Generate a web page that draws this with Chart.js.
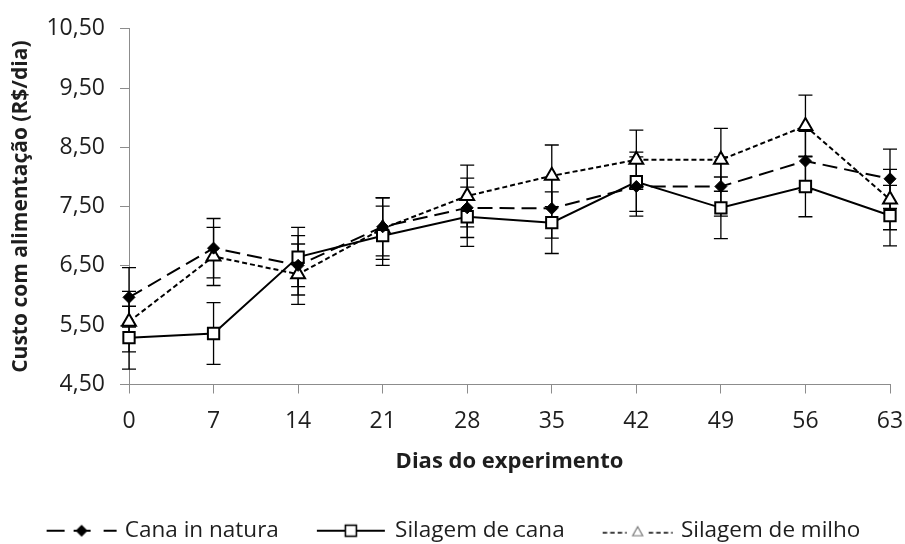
<!DOCTYPE html>
<html>
<head>
    <meta charset="utf-8">
    <title>Custo com alimentação</title>
    <script src="https://cdn.jsdelivr.net/npm/chart.js"></script>
    <style>
        body {
            margin: 0;
            background: #fff;
        }
        #wrap {
            width: 905px;
            height: 544px;
        }
    </style>
</head>
<body>
    <div id="wrap"><canvas id="myChart" width="905" height="544"></canvas></div>
    <script>
        // valores
        const dias = ['0', '7', '14', '21', '28', '35', '42', '49', '56', '63'];

        const canaNatura = [5.97, 6.80, 6.51, 7.16, 7.48, 7.47, 7.84, 7.84, 8.27, 7.97];
        const canaNaturaErro = [0.50, 0.50, 0.50, 0.49, 0.50, 0.50, 0.50, 0.50, 0.50, 0.50];

        const silagemCana = [5.29, 5.36, 6.65, 7.01, 7.33, 7.23, 7.92, 7.48, 7.84, 7.35];
        const silagemCanaErro = [0.53, 0.52, 0.50, 0.50, 0.50, 0.52, 0.50, 0.52, 0.51, 0.51];

        const silagemMilho = [5.56, 6.66, 6.36, 7.13, 7.68, 8.02, 8.29, 8.29, 8.86, 7.62];
        const silagemMilhoErro = [0.51, 0.49, 0.51, 0.52, 0.52, 0.52, 0.50, 0.53, 0.52, 0.51];

        const yTicks = [4.5, 5.5, 6.5, 7.5, 8.5, 9.5, 10.5];

        const fontFamily = '"Open Sans", "Noto Sans", sans-serif';
        const axisColor = '#8c8c8c';
        const textColor = '#1e1e1e';

        // barras de erro (media +- desvio)
        const errorBars = {
            id: 'errorBars',
            beforeDatasetsDraw(chart) {
                const ctx = chart.ctx;
                const x = chart.scales.x;
                const y = chart.scales.y;
                ctx.save();
                ctx.strokeStyle = '#000';
                ctx.lineWidth = 1.3;
                chart.data.datasets.forEach(ds => {
                    ds.data.forEach((v, i) => {
                        const px = x.getPixelForValue(i);
                        const top = y.getPixelForValue(v + ds.erro[i]);
                        const bot = y.getPixelForValue(v - ds.erro[i]);
                        ctx.beginPath();
                        ctx.moveTo(px, top);
                        ctx.lineTo(px, bot);
                        ctx.moveTo(px - 7, top);
                        ctx.lineTo(px + 7, top);
                        ctx.moveTo(px - 7, bot);
                        ctx.lineTo(px + 7, bot);
                        ctx.stroke();
                    });
                });
                ctx.restore();
            }
        };

        // icones da legenda: linha + marcador
        function legendIcon(kind) {
            const c = document.createElement('canvas');
            c.width = 108;
            c.height = 20;
            const g = c.getContext('2d');
            const o = 37, cy = 10;
            g.strokeStyle = '#000';
            g.lineWidth = 2;
            if (kind === 'cana') {
                g.beginPath();
                g.moveTo(o, cy); g.lineTo(o + 18, cy);
                g.moveTo(o + 27, cy); g.lineTo(o + 44, cy);
                g.moveTo(o + 57, cy); g.lineTo(o + 70, cy);
                g.stroke();
                g.fillStyle = '#000';
                g.beginPath();
                g.moveTo(o + 35, cy - 6); g.lineTo(o + 41, cy);
                g.lineTo(o + 35, cy + 6); g.lineTo(o + 29, cy);
                g.closePath();
                g.fill();
            } else if (kind === 'silagemCana') {
                g.beginPath();
                g.moveTo(o, cy); g.lineTo(o + 68, cy);
                g.stroke();
                g.fillStyle = '#fff';
                g.lineWidth = 1.6;
                g.fillRect(o + 28.5, cy - 5.5, 11, 11);
                g.strokeRect(o + 28.5, cy - 5.5, 11, 11);
            } else {
                g.lineWidth = 1.5;
                g.setLineDash([4.5, 3]);
                g.beginPath();
                g.moveTo(o, cy + 2); g.lineTo(o + 24, cy + 2);
                g.moveTo(o + 46, cy + 2); g.lineTo(o + 70, cy + 2);
                g.stroke();
                g.setLineDash([]);
                g.strokeStyle = '#777';
                g.lineWidth = 1.2;
                g.beginPath();
                g.moveTo(o + 35, cy - 4); g.lineTo(o + 40, cy + 5);
                g.lineTo(o + 30, cy + 5);
                g.closePath();
                g.stroke();
            }
            return c;
        }
        const legendIcons = [legendIcon('cana'), legendIcon('silagemCana'), legendIcon('milho')];

        const ctx = document.getElementById('myChart').getContext('2d');
        new Chart(ctx, {
            type: 'line',
            data: {
                labels: dias,
                datasets: [
                    {
                        label: 'Cana in natura',
                        data: canaNatura,
                        erro: canaNaturaErro,
                        borderColor: '#000',
                        borderWidth: 2,
                        borderDash: [15, 7],
                        pointStyle: 'rectRot',
                        pointRadius: 6,
                        pointBackgroundColor: '#000',
                        pointBorderColor: '#000',
                        pointBorderWidth: 1
                    },
                    {
                        label: 'Silagem de cana',
                        data: silagemCana,
                        erro: silagemCanaErro,
                        borderColor: '#000',
                        borderWidth: 2,
                        pointStyle: 'rect',
                        pointRadius: 8,
                        pointBackgroundColor: '#fff',
                        pointBorderColor: '#000',
                        pointBorderWidth: 2
                    },
                    {
                        label: 'Silagem de milho',
                        data: silagemMilho,
                        erro: silagemMilhoErro,
                        borderColor: '#000',
                        borderWidth: 2,
                        borderDash: [5, 3],
                        pointStyle: 'triangle',
                        pointRadius: 8,
                        pointBackgroundColor: '#fff',
                        pointBorderColor: '#000',
                        pointBorderWidth: 2
                    }
                ]
            },
            options: {
                responsive: false,
                animation: false,
                events: [],
                layout: {
                    padding: { left: -16, right: 15, top: 24, bottom: -8 }
                },
                elements: {
                    line: { tension: 0 }
                },
                plugins: {
                    tooltip: { enabled: false },
                    legend: {
                        position: 'bottom',
                        labels: {
                            usePointStyle: true,
                            pointStyleWidth: 100,
                            padding: 5,
                            color: textColor,
                            font: { family: fontFamily, size: 22.5 },
                            generateLabels(chart) {
                                const items = Chart.defaults.plugins.legend.labels.generateLabels(chart);
                                items.forEach((it, i) => { it.pointStyle = legendIcons[i]; });
                                return items;
                            }
                        }
                    }
                },
                scales: {
                    x: {
                        type: 'category',
                        offset: false,
                        afterFit(s) {
                            s.height = 130;
                            s.paddingLeft = 0;
                            s.paddingRight = 14;
                        },
                        grid: {
                            offset: false,
                            drawOnChartArea: false,
                            drawTicks: true,
                            tickLength: 9,
                            color: axisColor
                        },
                        border: { color: axisColor, width: 1 },
                        ticks: {
                            padding: 14,
                            color: textColor,
                            font: { family: fontFamily, size: 23 }
                        },
                        title: {
                            display: true,
                            text: 'Dias do experimento',
                            color: textColor,
                            padding: { top: 0, bottom: 40 },
                            font: { family: fontFamily, size: 22, weight: 'bold' }
                        }
                    },
                    y: {
                        min: 4.5,
                        max: 10.5,
                        afterFit(s) { s.width = 145; },
                        afterBuildTicks(s) { s.ticks = yTicks.map(v => ({ value: v })); },
                        grid: {
                            drawOnChartArea: false,
                            drawTicks: true,
                            tickLength: 9,
                            color: axisColor
                        },
                        border: { color: axisColor, width: 1 },
                        ticks: {
                            padding: 15,
                            color: textColor,
                            font: { family: fontFamily, size: 23 },
                            callback: v => v.toFixed(2).replace('.', ',')
                        },
                        title: {
                            display: true,
                            text: 'Custo com alimentação (R$/dia)',
                            color: textColor,
                            padding: { top: 24, bottom: 0 },
                            font: { family: fontFamily, size: 21, weight: 'bold' }
                        }
                    }
                }
            },
            plugins: [errorBars]
        });
    </script>
</body>
</html>
